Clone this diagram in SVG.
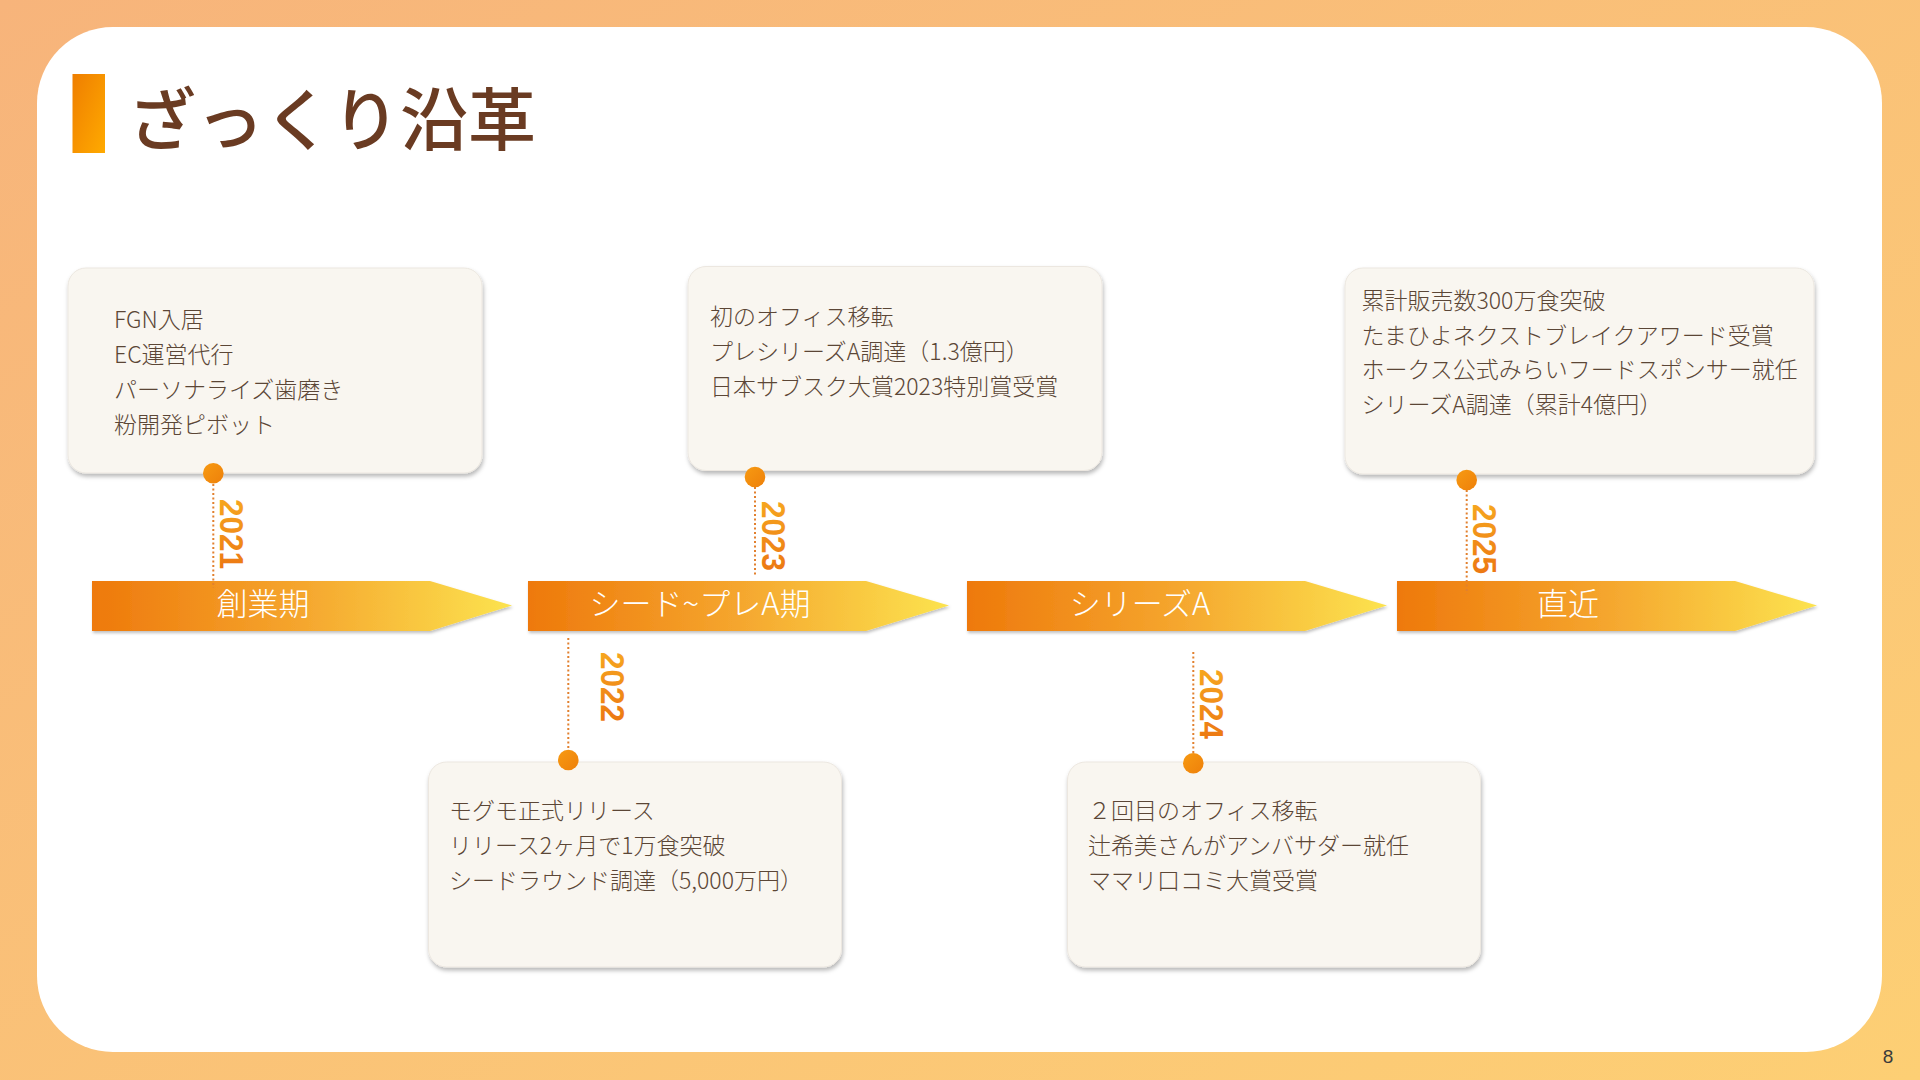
<svg xmlns="http://www.w3.org/2000/svg" width="1920" height="1080" viewBox="0 0 1920 1080">
<defs>
<linearGradient id="bg" x1="0" y1="0" x2="1" y2="1">
<stop offset="0" stop-color="#F7B47B"/>
<stop offset="1" stop-color="#FDCF74"/>
</linearGradient>
<linearGradient id="bar" x1="0" y1="0" x2="1" y2="1">
<stop offset="0" stop-color="#EF7E00"/>
<stop offset="1" stop-color="#FFAA00"/>
</linearGradient>
<linearGradient id="arr" x1="0" y1="0" x2="1" y2="0">
<stop offset="0" stop-color="#EE790B"/>
<stop offset="0.5" stop-color="#F5A62E"/>
<stop offset="1" stop-color="#FCE34F"/>
</linearGradient>
<linearGradient id="yr" x1="0" y1="0" x2="1" y2="0">
<stop offset="0" stop-color="#F6A61F"/>
<stop offset="1" stop-color="#EC7812"/>
</linearGradient>
<linearGradient id="dotg" x1="0" y1="0" x2="1" y2="1">
<stop offset="0" stop-color="#F79A12"/>
<stop offset="1" stop-color="#EE800A"/>
</linearGradient>
<filter id="sh" x="-10%" y="-10%" width="120%" height="130%">
<feDropShadow dx="1" dy="3" stdDeviation="2" flood-color="#000" flood-opacity="0.28"/>
</filter>
<filter id="ash" x="-5%" y="-20%" width="110%" height="150%">
<feDropShadow dx="1" dy="2" stdDeviation="1.5" flood-color="#000" flood-opacity="0.25"/>
</filter>
</defs>
<style>
.box{fill:#F9F6F0;stroke:#ECE7E0;stroke-width:1;filter:url(#sh)}
.bt{font-family:"Noto Sans CJK JP","Noto Sans",sans-serif;font-size:23px;font-weight:300;fill:#5B4636}
.arrow{fill:url(#arr);filter:url(#ash)}
.al{font-family:"Noto Sans CJK JP","Noto Sans",sans-serif;font-size:31px;font-weight:300;fill:#FFFFFF;text-anchor:middle}
.yr{font-family:"Liberation Sans",Arial,sans-serif;font-size:34px;font-weight:700;fill:url(#yr)}
.ln{stroke:#E2802E;stroke-width:2;stroke-dasharray:2 2.5;fill:none}
.dot{fill:url(#dotg)}
</style>
<rect x="0" y="0" width="1920" height="1080" fill="url(#bg)"/>
<rect x="37" y="27" width="1845" height="1025" rx="76" ry="76" fill="#FFFFFF"/>
<g id="title">
<rect x="72.5" y="74" width="32.5" height="79" fill="url(#bar)"/>
<text x="128" y="145" font-family="'Noto Sans CJK JP','Noto Sans',sans-serif" font-size="68" font-weight="500" fill="#6A3B22">ざっくり沿革</text>
</g>
<g id="phases">
<g id="phase-1">
<polygon class="arrow" points="92,581 430,581 512,605.5 430,631 92,631"/>
<text class="al" x="263" y="615">創業期</text>
</g>
<g id="phase-2">
<polygon class="arrow" points="528,581 866,581 949,605.5 866,631 528,631"/>
<text class="al" x="700" y="615">シード~プレA期</text>
</g>
<g id="phase-3">
<polygon class="arrow" points="967,581 1305,581 1387,605.5 1305,631 967,631"/>
<text class="al" x="1140" y="615">シリーズA</text>
</g>
<g id="phase-4">
<polygon class="arrow" points="1397,581 1735,581 1817,605.5 1735,631 1397,631"/>
<text class="al" x="1568" y="615">直近</text>
</g>
</g>
<g id="box-2021">
<rect class="box" x="68" y="268" width="414" height="205" rx="18" ry="18"/>
<text class="bt" x="114" y="328">FGN入居</text>
<text class="bt" x="114" y="363">EC運営代行</text>
<text class="bt" x="114" y="398">パーソナライズ歯磨き</text>
<text class="bt" x="114" y="433">粉開発ピボット</text>
</g>
<g id="box-2023">
<rect class="box" x="688" y="266.5" width="414" height="204" rx="18" ry="18"/>
<text class="bt" x="710" y="325">初のオフィス移転</text>
<text class="bt" x="710" y="360">プレシリーズA調達（1.3億円）</text>
<text class="bt" x="710" y="395">日本サブスク大賞2023特別賞受賞</text>
</g>
<g id="box-2025">
<rect class="box" x="1345" y="268" width="469" height="206" rx="18" ry="18"/>
<text class="bt" x="1361.5" y="309">累計販売数300万食突破</text>
<text class="bt" x="1361.5" y="343.5">たまひよネクストブレイクアワード受賞</text>
<text class="bt" x="1361.5" y="378">ホークス公式みらいフードスポンサー就任</text>
<text class="bt" x="1361.5" y="412.5">シリーズA調達（累計4億円）</text>
</g>
<g id="box-2022">
<rect class="box" x="428.5" y="762" width="413" height="205" rx="18" ry="18"/>
<text class="bt" x="449" y="819">モグモ正式リリース</text>
<text class="bt" x="449" y="854">リリース2ヶ月で1万食突破</text>
<text class="bt" x="449" y="889">シードラウンド調達（5,000万円）</text>
</g>
<g id="box-2024">
<rect class="box" x="1067.5" y="762" width="413" height="205" rx="18" ry="18"/>
<text class="bt" x="1088" y="819">２回目のオフィス移転</text>
<text class="bt" x="1088" y="854">辻希美さんがアンバサダー就任</text>
<text class="bt" x="1088" y="889">ママリ口コミ大賞受賞</text>
</g>
<g id="connectors">
<line class="ln" x1="213.3" y1="484" x2="213.3" y2="588"/>
<line class="ln" x1="568.3" y1="638" x2="568.3" y2="750"/>
<line class="ln" x1="755" y1="487" x2="755" y2="576"/>
<line class="ln" x1="1193.3" y1="652" x2="1193.3" y2="753"/>
<line class="ln" x1="1466.7" y1="490" x2="1466.7" y2="594"/>
<circle class="dot" cx="213.3" cy="473.3" r="10.3"/>
<circle class="dot" cx="568.3" cy="760" r="10.3"/>
<circle class="dot" cx="755" cy="477" r="10.3"/>
<circle class="dot" cx="1193.3" cy="763.3" r="10.3"/>
<circle class="dot" cx="1466.7" cy="480" r="10.3"/>
<text class="yr" transform="translate(220,499) rotate(90)" textLength="70" lengthAdjust="spacingAndGlyphs">2021</text>
<text class="yr" transform="translate(601,652) rotate(90)" textLength="70" lengthAdjust="spacingAndGlyphs">2022</text>
<text class="yr" transform="translate(762,501) rotate(90)" textLength="70" lengthAdjust="spacingAndGlyphs">2023</text>
<text class="yr" transform="translate(1200,669) rotate(90)" textLength="70" lengthAdjust="spacingAndGlyphs">2024</text>
<text class="yr" transform="translate(1473,504) rotate(90)" textLength="70" lengthAdjust="spacingAndGlyphs">2025</text>
</g>
<text x="1888" y="1063" font-family="'Liberation Sans',Arial,sans-serif" font-size="19" fill="#3A3A3A" text-anchor="middle">8</text>
</svg>
